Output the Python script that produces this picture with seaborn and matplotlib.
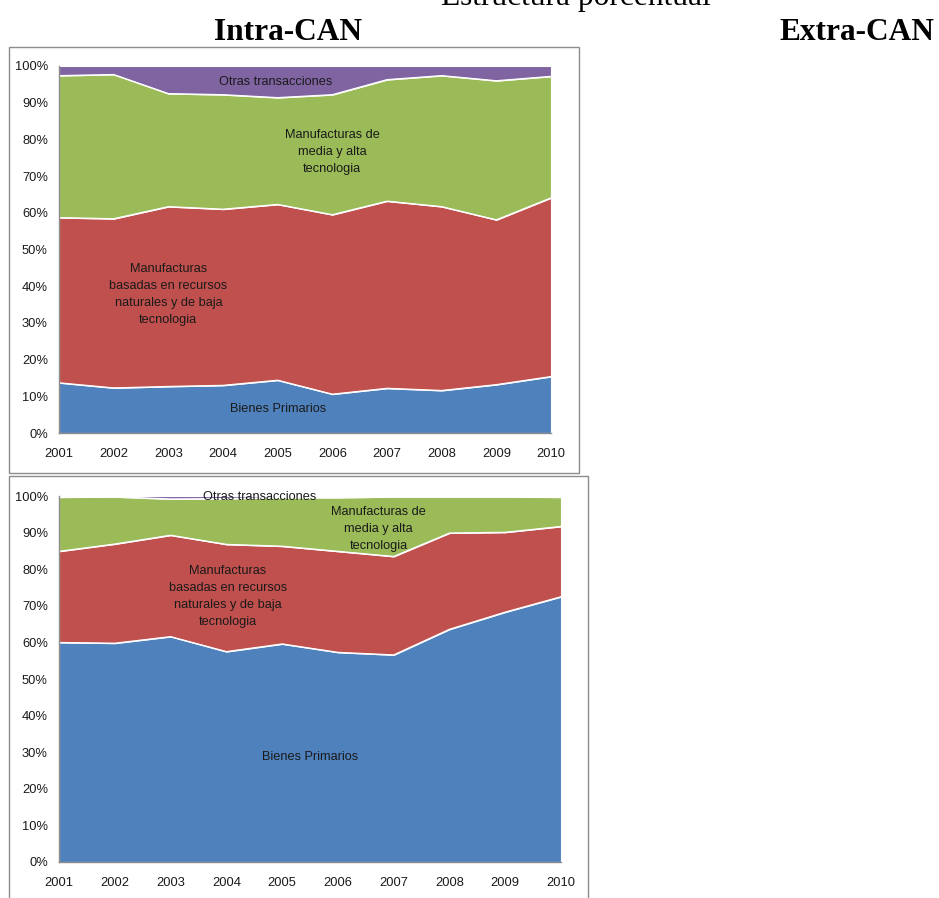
import matplotlib
matplotlib.use("Agg")
import matplotlib.pyplot as plt
from matplotlib.patches import Rectangle
import seaborn as sns
import pandas as pd

# ---------------- data ----------------
years = [2001, 2002, 2003, 2004, 2005, 2006, 2007, 2008, 2009, 2010]
series_names = ["Bienes Primarios",
                "Manufacturas basadas en recursos naturales y de baja tecnologia",
                "Manufacturas de media y alta tecnologia",
                "Otras transacciones"]

intra_bienes = [13.7, 12.3, 12.7, 13.0, 14.4, 10.6, 12.2, 11.6, 13.2, 15.4]
intra_manuf_rn = [45.0, 46.1, 49.0, 48.0, 47.9, 48.9, 51.0, 50.1, 44.9, 48.7]
intra_manuf_mat = [38.7, 39.3, 30.8, 31.2, 29.1, 32.7, 33.1, 35.7, 37.9, 33.1]
intra_otras = [2.6, 2.3, 7.5, 7.8, 8.6, 7.8, 3.7, 2.6, 4.0, 2.8]

extra_bienes = [60.0, 59.8, 61.6, 57.5, 59.6, 57.3, 56.6, 63.6, 68.3, 72.5]
extra_manuf_rn = [24.9, 27.1, 27.7, 29.3, 26.7, 27.6, 26.9, 26.3, 21.8, 19.2]
extra_manuf_mat = [14.8, 12.9, 9.9, 12.5, 13.3, 14.7, 16.3, 9.9, 9.7, 8.0]
extra_otras = [0.3, 0.2, 0.8, 0.7, 0.4, 0.4, 0.2, 0.2, 0.2, 0.3]

y_ticks = [0, 10, 20, 30, 40, 50, 60, 70, 80, 90, 100]
y_ticklabels = ["0%", "10%", "20%", "30%", "40%", "50%", "60%", "70%", "80%", "90%", "100%"]

# ---------------- style ----------------
sns.set_theme(style="white")
SANS = ["Liberation Sans", "DejaVu Sans"]
plt.rcParams["font.family"] = SANS
palette = sns.color_palette(["#4F81BD", "#C0504D", "#9BBB59", "#8064A2"])

fig = plt.figure(figsize=(9.39, 8.98), dpi=100)
fig.patch.set_facecolor("white")

# outer chart-area frames
frame_color = "#8C8C8C"
fig.add_artist(Rectangle((9 / 939, 1 - 473 / 898), 570 / 939, 426 / 898,
                         transform=fig.transFigure, fill=False,
                         edgecolor=frame_color, linewidth=1.0))
fig.add_artist(Rectangle((9 / 939, 1 - 900 / 898), 579 / 939, 424 / 898,
                         transform=fig.transFigure, fill=False,
                         edgecolor=frame_color, linewidth=1.0))

# titles
serif = ["Liberation Serif", "DejaVu Serif"]
fig.text(576 / 939, 1 - 5 / 898, "Estructura porcentual", ha="center", va="baseline",
         fontsize=22.6, family=serif, color="black")
fig.text(288 / 939, 1 - 40 / 898, "Intra-CAN", ha="center", va="baseline",
         fontsize=22.6, family=serif, fontweight="bold", color="black")
fig.text(857 / 939, 1 - 40 / 898, "Extra-CAN", ha="center", va="baseline",
         fontsize=22.6, family=serif, fontweight="bold", color="black")

ax_top = fig.add_axes([59 / 939, 1 - 433 / 898, 492 / 939, 367 / 898])
ax_bot = fig.add_axes([59 / 939, 1 - 862 / 898, 502 / 939, 366 / 898])


def draw(ax, comps, labels):
    df = pd.DataFrame({"year": years})
    for name, vals in zip(series_names, comps):
        df[name] = vals
    ax.stackplot(df["year"], *[df[n] for n in series_names], colors=palette,
                 edgecolor="white", linewidth=0.8)
    # white boundary lines between areas via seaborn
    cum = df[series_names].cumsum(axis=1)
    for n in series_names[:-1]:
        sns.lineplot(x=df["year"], y=cum[n], ax=ax, color="white", linewidth=0.8,
                     legend=False)
    ax.set_xlim(years[0], years[-1])
    ax.set_ylim(0, 100)
    ax.set_xticks(years)
    ax.set_xticklabels([str(y) for y in years])
    ax.set_yticks(y_ticks)
    ax.set_yticklabels(y_ticklabels)
    ax.set_xlabel("")
    ax.set_ylabel("")
    for s in ["top", "right"]:
        ax.spines[s].set_visible(False)
    for s in ["left", "bottom"]:
        ax.spines[s].set_color("#8C8C8C")
        ax.spines[s].set_linewidth(1.0)
    ax.tick_params(axis="both", which="major", direction="out", length=4, width=1.0,
                   color="#8C8C8C", labelsize=9.3, labelcolor="#1a1a1a")
    ax.tick_params(axis="x", pad=7)
    ax.tick_params(axis="y", pad=4)
    ax.set_facecolor("white")
    for (x, y, txt) in labels:
        ax.text(x, y, txt, ha="center", va="center", fontsize=9.2, family=SANS,
                color="#1a1a1a", linespacing=1.55)


draw(ax_top, [intra_bienes, intra_manuf_rn, intra_manuf_mat, intra_otras],
     [(2004.97, 95.6, "Otras transacciones"),
      (2006.0, 76.5, "Manufacturas de\nmedia y alta\ntecnologia"),
      (2003.0, 37.8, "Manufacturas\nbasadas en recursos\nnaturales y de baja\ntecnologia"),
      (2005.0, 6.6, "Bienes Primarios")])

draw(ax_bot, [extra_bienes, extra_manuf_rn, extra_manuf_mat, extra_otras],
     [(2004.6, 99.6, "Otras transacciones"),
      (2006.73, 91.0, "Manufacturas de\nmedia y alta\ntecnologia"),
      (2004.03, 72.5, "Manufacturas\nbasadas en recursos\nnaturales y de baja\ntecnologia"),
      (2005.5, 28.6, "Bienes Primarios")])

fig.savefig("out.png", dpi=100, facecolor="white")
